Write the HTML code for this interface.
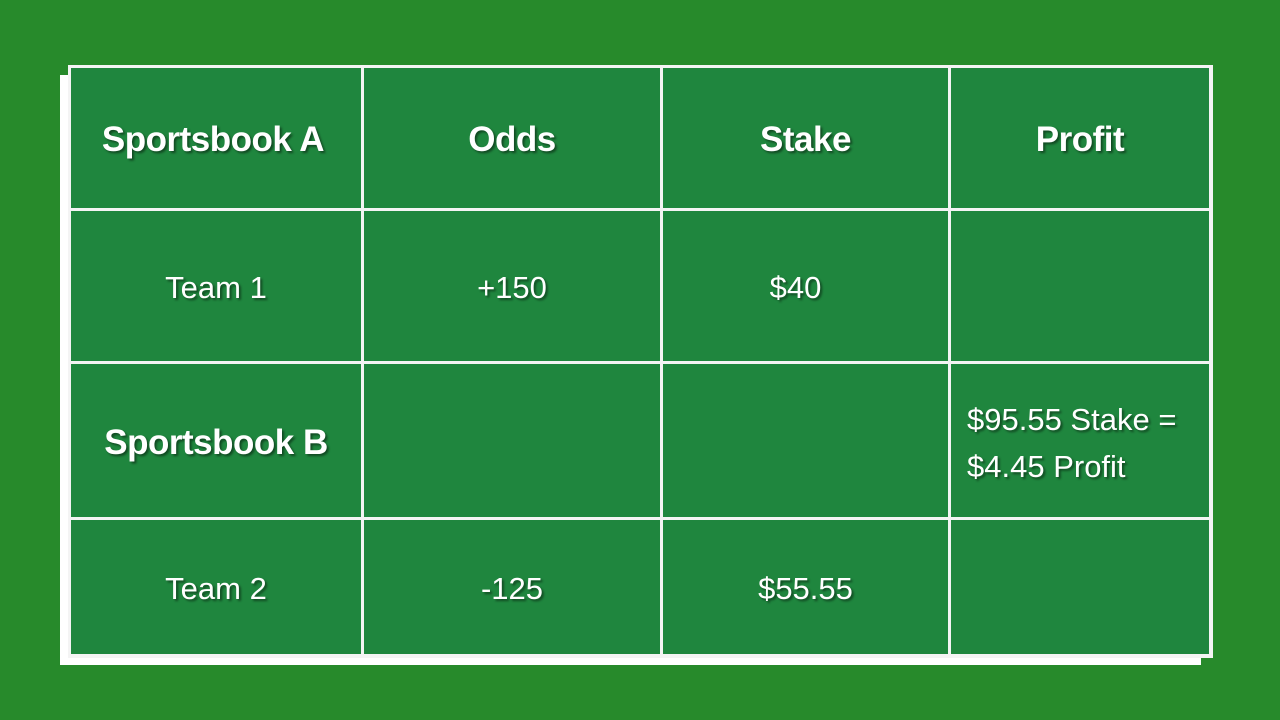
<!DOCTYPE html>
<html><head><meta charset="utf-8"><style>
body{margin:0;width:1280px;height:720px;overflow:hidden;background:#278a2b;font-family:"Liberation Sans",sans-serif;position:relative}
.abs{position:absolute}
.cell{position:absolute;box-sizing:border-box;background:#1f863e;display:flex;align-items:center;justify-content:center;color:#fff;text-shadow:2px 2px 2px rgba(0,0,0,0.45);font-size:31px;padding-top:4px}
.h{font-weight:bold;font-size:35px;letter-spacing:-0.5px}
</style></head><body>
<div class="abs" style="left:60px;top:75px;width:1141px;height:590px;background:#fff"></div>
<div class="abs" style="left:68px;top:65px;width:1145px;height:593px;background:#f4f4f4"></div>
<div id="grid"></div>
<script>
const xs=[68,361,660,948,1212];
const ys=[65,208,361,517,657];
const cells=[
["Sportsbook A","Odds","Stake","Profit"],
["Team 1","+150","$40",""],
["Sportsbook B","","","$95.55 Stake =<br>$4.45 Profit"],
["Team 2","-125","$55.55",""]];
const names=[["header-sportsbook-a","header-odds","header-stake","header-profit"],
["team1-label","team1-odds","team1-stake","team1-profit"],
["sportsbook-b-label","sportsbook-b-odds","sportsbook-b-stake","sportsbook-b-profit"],
["team2-label","team2-odds","team2-stake","team2-profit"]];
const g=document.getElementById('grid');
for(let r=0;r<4;r++)for(let c=0;c<4;c++){
 const d=document.createElement('div');
 d.className='cell'+((r==0||(r==2&&c==0))?' h':'');
 
 
 const x0=xs[c]+3,y0=ys[r]+3,x1=xs[c+1]-(c==3?3:0),y1=ys[r+1]-(r==3?3:0);
 d.style.left=x0+'px';d.style.top=y0+'px';d.style.width=(x1-x0)+'px';d.style.height=(y1-y0)+'px';
 d.innerHTML=cells[r][c];
 if(r==2&&c==3){d.style.justifyContent='flex-start';d.style.paddingLeft='16px';d.style.lineHeight='47px';d.style.textAlign='left'}
 if(r==1&&c==2)d.style.paddingRight='20px';
 if(r==0&&c==0)d.style.paddingRight='6px';
 g.appendChild(d);
}
</script>
</body></html>
